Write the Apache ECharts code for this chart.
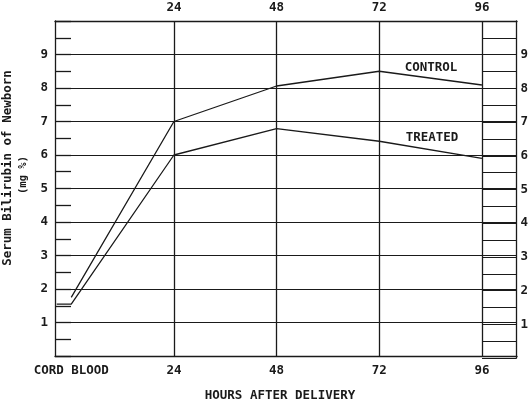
<!DOCTYPE html>
<html>
<head>
<meta charset="utf-8">
<script src="https://cdn.jsdelivr.net/npm/echarts@6/dist/echarts.min.js"></script>
<style>html,body{margin:0;padding:0;background:#fff}#c{width:531px;height:407px}</style>
</head>
<body>
<div id="c"></div>
<script>
// ---- data ----
var hourTicks = [0, 24, 48, 72, 96];
var hourLabels = ['CORD BLOOD', '24', '48', '72', '96'];
var gridHours = [24, 48, 72, 96];
var controlHours = [0, 24, 48, 72, 96];
var control = [1.75, 7.0, 8.06, 8.5, 8.09];
var treatedHours = [-3.4, 0, 24, 48, 72, 96];
var treated = [1.55, 1.55, 6.0, 6.79, 6.41, 5.9];
var yTickLabels = ['1', '2', '3', '4', '5', '6', '7', '8', '9'];

var FONT = '"DejaVu Sans Mono", monospace';
var INK = '#1a1a1a';

function pairs(xs, ys) { return xs.map(function (x, i) { return [x, ys[i]]; }); }
function yLab(v) { return (v >= 1 && v <= 9 && v % 1 === 0) ? yTickLabels[v - 1] : ''; }

var chart = echarts.init(document.getElementById('c'), null, { renderer: 'canvas' });
var X_MIN = -3.8, X_MAX = 104.2;
var lineBase = { color: INK, width: 1.3 };

chart.setOption({
  backgroundColor: '#fff',
  animation: false,
  grid: [
    { left: 55, right: 14, top: 21, bottom: 49 },
    { left: 482, right: 14, top: 21, bottom: 49 }
  ],
  xAxis: [
    {
      gridIndex: 0, type: 'value', min: X_MIN, max: X_MAX, position: 'bottom',
      axisLine: { show: true, onZero: false, lineStyle: lineBase },
      axisTick: { show: false },
      splitLine: { show: false },
      axisLabel: {
        customValues: hourTicks, margin: 8,
        formatter: function (v) { var i = hourTicks.indexOf(v); return i >= 0 ? hourLabels[i] : ''; },
        color: INK, fontFamily: FONT, fontWeight: 'bold', fontSize: 12.5
      },
      name: 'HOURS AFTER DELIVERY', nameLocation: 'middle', nameGap: 33,
      nameTextStyle: { color: INK, fontFamily: FONT, fontWeight: 'bold', fontSize: 12.5, padding: [0, 12, 0, 0] }
    },
    {
      gridIndex: 0, type: 'value', min: X_MIN, max: X_MAX, position: 'top',
      axisLine: { show: true, onZero: false, lineStyle: lineBase },
      axisTick: { show: false },
      splitLine: { show: false },
      axisLabel: {
        customValues: gridHours, margin: 7,
        formatter: function (v) { var i = hourTicks.indexOf(v); return i >= 0 ? hourLabels[i] : ''; },
        color: INK, fontFamily: FONT, fontWeight: 'bold', fontSize: 12.5
      }
    },
    {
      gridIndex: 1, type: 'value', min: 0, max: 1, show: false
    }
  ],
  yAxis: [
    {
      gridIndex: 0, type: 'value', min: 0, max: 10, interval: 1, position: 'left',
      axisLine: { show: true, onZero: false, lineStyle: lineBase },
      axisTick: { show: true, inside: true, length: 16, lineStyle: lineBase },
      minorTick: { show: true, splitNumber: 2, length: 16, lineStyle: lineBase },
      splitLine: { show: true, lineStyle: { color: INK, width: 1.2 } },
      axisLabel: { formatter: yLab, margin: 7, color: INK, fontFamily: FONT, fontWeight: 'bold', fontSize: 12.5 }
    },
    {
      gridIndex: 1, type: 'value', min: 0, max: 10, interval: 0.5, position: 'right',
      axisLine: { show: true, onZero: false, lineStyle: lineBase },
      axisTick: { show: false },
      splitLine: { show: true, lineStyle: { color: INK, width: 1.2 } },
      axisLabel: { formatter: yLab, margin: 4, color: INK, fontFamily: FONT, fontWeight: 'bold', fontSize: 12.5 }
    }
  ],
  series: [
    {
      name: 'CONTROL', type: 'line', xAxisIndex: 0, yAxisIndex: 0,
      data: pairs(controlHours, control), symbol: 'none',
      lineStyle: { color: INK, width: 1.3 }, z: 5,
      markLine: {
        silent: true, symbol: 'none', label: { show: false },
        lineStyle: { color: INK, width: 1.3, type: 'solid' },
        data: gridHours.map(function (h) { return { xAxis: h }; })
      }
    },
    {
      name: 'TREATED', type: 'line', xAxisIndex: 0, yAxisIndex: 0,
      data: pairs(treatedHours, treated), symbol: 'none',
      lineStyle: { color: INK, width: 1.3 }, z: 5
    }
  ],
  graphic: [
    { type: 'text', x: 431, y: 68, style: { text: 'CONTROL', fill: INK, font: 'bold 12.5px ' + FONT, align: 'center', verticalAlign: 'middle' } },
    { type: 'text', x: 432, y: 138, style: { text: 'TREATED', fill: INK, font: 'bold 12.5px ' + FONT, align: 'center', verticalAlign: 'middle' } },
    { type: 'text', x: 8, y: 168, rotation: Math.PI / 2,
      style: { text: 'Serum Bilirubin of Newborn', fill: INK, font: 'bold 12.5px ' + FONT, align: 'center', verticalAlign: 'middle' } },
    { type: 'text', x: 23, y: 175, rotation: Math.PI / 2,
      style: { text: '(mg %)', fill: INK, font: 'bold 10.5px ' + FONT, align: 'center', verticalAlign: 'middle' } }
  ]
});
</script>
</body>
</html>
